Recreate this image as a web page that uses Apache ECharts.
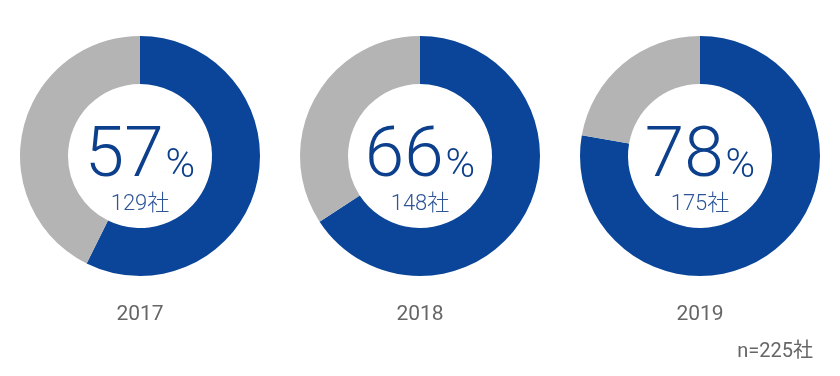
<!DOCTYPE html>
<html>
<head>
<meta charset="utf-8">
<script src="https://cdn.jsdelivr.net/npm/echarts@6/dist/echarts.min.js"></script>
<style>
  html, body { margin: 0; padding: 0; background: #fff; }
  #chart { width: 840px; height: 376px; }
</style>
</head>
<body>
<div id="chart"></div>
<script>
// 年ごとの実施社数（n=225社）
var years = ["2017", "2018", "2019"];
var percents = [57, 66, 78];
var counts = [129, 148, 175];
var total = 225;
var noteText = "n=225社";

var blue = "#0a4599";
var gray = "#b4b4b4";
var centersX = [140, 420, 700]; // 各ドーナツの中心
var centerY = 156;

var chart = echarts.init(document.getElementById("chart"));

var series = years.map(function (y, i) {
  return {
    type: "pie",
    radius: [72, 120],
    center: [centersX[i], centerY],
    startAngle: 90,
    clockwise: true,
    silent: true,
    animation: false,
    labelLine: { show: false },
    itemStyle: { borderWidth: 0 },
    data: [
      {
        value: counts[i],
        name: y,
        itemStyle: { color: blue },
        label: {
          show: true,
          position: "center",
          padding: [34, 0, 0, 0],
          formatter: "{big|" + percents[i] + "}{pct|%}\n{cnt|" + counts[i] + "社}",
          rich: {
            big: { fontFamily: "Roboto", fontWeight: 300, fontSize: 71, color: "#0c3f8c", lineHeight: 62 },
            pct: { fontFamily: "Roboto", fontWeight: 300, fontSize: 40, color: "#0c3f8c", lineHeight: 62, verticalAlign: "bottom", padding: [0, 0, 2, 2] },
            cnt: { fontFamily: "Roboto, 'Noto Sans CJK JP'", fontWeight: 300, fontSize: 22, color: "#2f5597", lineHeight: 30 }
          }
        }
      },
      {
        value: total - counts[i],
        name: y + "-other",
        itemStyle: { color: gray },
        label: { show: false }
      }
    ]
  };
});

var titles = years.map(function (y, i) {
  return {
    text: y,
    left: centersX[i] - 5,
    top: 299,
    textAlign: "center",
    textStyle: { fontFamily: "Roboto", fontWeight: 400, fontSize: 21, color: "#666" }
  };
});
titles.push({
  text: noteText,
  right: 22,
  top: 337,
  textStyle: { fontFamily: "Roboto, 'Noto Sans CJK JP'", fontWeight: 400, fontSize: 20, color: "#666" }
});

chart.setOption({
  backgroundColor: "#fff",
  animation: false,
  title: titles,
  series: series
});
</script>
</body>
</html>
